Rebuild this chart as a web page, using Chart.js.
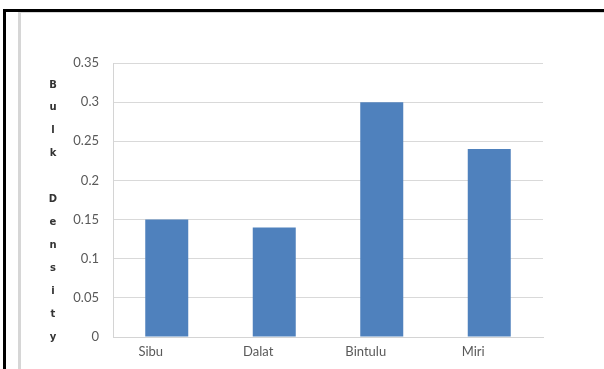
<!DOCTYPE html>
<html>
<head>
<meta charset="utf-8">
<script src="https://cdn.jsdelivr.net/npm/chart.js@4.4.1/dist/chart.umd.min.js"></script>
<style>
  html, body { margin: 0; padding: 0; background: #fff; }
  #wrap { position: relative; width: 604px; height: 369px; overflow: hidden; }
  /* outer frame: black top and left edges */
  #frame { position: absolute; left: 3px; top: 9px; right: -10px; bottom: -10px;
           border-top: 3px solid #000; border-left: 3px solid #000; }
  /* inner chart border */
  #inner { position: absolute; left: 18px; top: 12px; right: -10px; bottom: -10px;
           border-top: 1px solid #d6d6d6; border-left: 3px solid #d6d6d6; }
  canvas { position: absolute; left: 0; top: 0; }
</style>
</head>
<body>
<div id="wrap">
  <div id="frame"></div>
  <div id="inner"></div>
  <canvas id="chart" width="604" height="369"></canvas>
</div>
<script>
const sites = ["Sibu", "Dalat", "Bintulu", "Miri"];
const bulkDensity = [0.15, 0.14, 0.30, 0.24];
const yTicks = [0, 0.05, 0.1, 0.15, 0.2, 0.25, 0.3, 0.35];
const yTitle = ["B", "u", "l", "k", "", "D", "e", "n", "s", "i", "t", "y"];

// y-axis title written one letter per line, down the left side
const stackedTitle = {
    id: "stackedTitle",
    afterDraw(chart) {
        const ctx = chart.ctx;
        const area = chart.chartArea;
        const step = (area.bottom - area.top + 1) / yTitle.length;
        ctx.save();
        ctx.font = "bold 10px 'DejaVu Sans'";
        ctx.fillStyle = "#333";
        ctx.textAlign = "center";
        ctx.textBaseline = "middle";
        yTitle.forEach((ch, i) => {
            ctx.fillText(ch, 53, area.bottom - (yTitle.length - 1 - i) * step);
        });
        ctx.restore();
    }
};

new Chart(document.getElementById("chart"), {
    type: "bar",
    data: {
        labels: sites,
        datasets: [{
            data: bulkDensity,
            backgroundColor: "#4f81bd",
            borderWidth: 0,
            categoryPercentage: 0.8,
            barPercentage: 0.5
        }]
    },
    options: {
        responsive: false,
        animation: false,
        layout: { padding: { left: 0, right: 61, top: 63, bottom: 0 } },
        plugins: {
            legend: { display: false },
            tooltip: { enabled: false }
        },
        scales: {
            x: {
                grid: { display: false, drawTicks: false },
                border: { color: "#d4d4d4", width: 1 },
                ticks: {
                    color: "#595959",
                    font: { family: "Lato", size: 13 },
                    padding: 7,
                    labelOffset: -16
                },
                afterFit(scale) { scale.height = 32; }
            },
            y: {
                min: 0,
                max: 0.35,
                afterBuildTicks(scale) {
                    scale.ticks = yTicks.map(v => ({ value: v }));
                },
                grid: { color: "#d9d9d9", drawTicks: false },
                border: { color: "#d4d4d4", width: 1 },
                ticks: {
                    color: "#595959",
                    font: { family: "Lato", size: 13 },
                    padding: 14,
                    callback: v => String(v)
                },
                afterFit(scale) { scale.width = 113; }
            }
        }
    },
    plugins: [stackedTitle]
});
</script>
</body>
</html>
